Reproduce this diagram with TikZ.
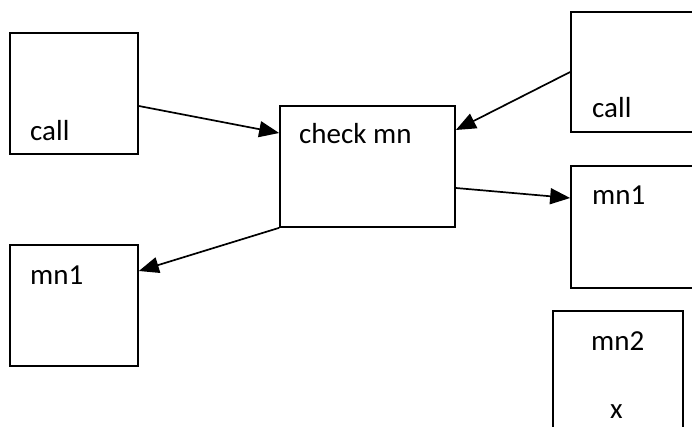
\documentclass[tikz,border=0pt]{standalone}
\usepackage{fontspec}
\setmainfont{Carlito}
\usetikzlibrary{arrows.meta,positioning}

\tikzset{
  box/.style={draw, line width=1.7pt, inner sep=0pt, minimum width=128pt, minimum height=121pt},
  lbl/.style={inner sep=0pt, anchor=base west, font=\fontsize{29}{35}\selectfont},
  link/.style={line width=1.7pt, -{Triangle[length=20pt,width=16pt]}}
}

\begin{document}
\begin{tikzpicture}[x=1pt, y=-1pt]
      \useasboundingbox (0, 0) rectangle (692, 427);
      \clip (0, 0) rectangle (692, 427);
      % boxes
      \node[box] (calll) at (74, 93.5) {};
      \node[box, minimum width=175pt] (check) at (367.5, 166.5) {};
      \node[box, minimum width=130pt, minimum height=120pt] (callr) at (636, 72) {};
      \node[box] (mnl) at (74, 305.5) {};
      \node[box, minimum width=130pt, minimum height=122pt] (mnr) at (636, 227) {};
      \node[box, minimum width=130pt, minimum height=130pt] (mntwo) at (618, 376) {};
      % texts
      \node[lbl] (tcalll) at (30, 141) {call};
      \node[lbl] (tcheck) at (299, 144) {check mn};
      \node[lbl] (tcallr) at (592, 118) {call};
      \node[lbl] (tmnl) at (30, 284) {mn1};
      \node[lbl] (tmnr) at (592, 205) {mn1};
      \node[lbl] (tmntwo) at (591, 350) {mn2};
      \node[lbl] (tx) at (610, 418) {x};
      % arrows
      \draw[link] ([yshift=-12.5pt]calll.east) -- ([yshift=33.5pt]check.west);
      \draw[link] (callr.west) -- ([yshift=36.5pt]check.east);
      \draw[link] ([yshift=-21.5pt]check.east) -- ([yshift=29pt]mnr.west);
      \draw[link] (check.south west) -- ([yshift=34.5pt]mnl.east);
\end{tikzpicture}
\end{document}
